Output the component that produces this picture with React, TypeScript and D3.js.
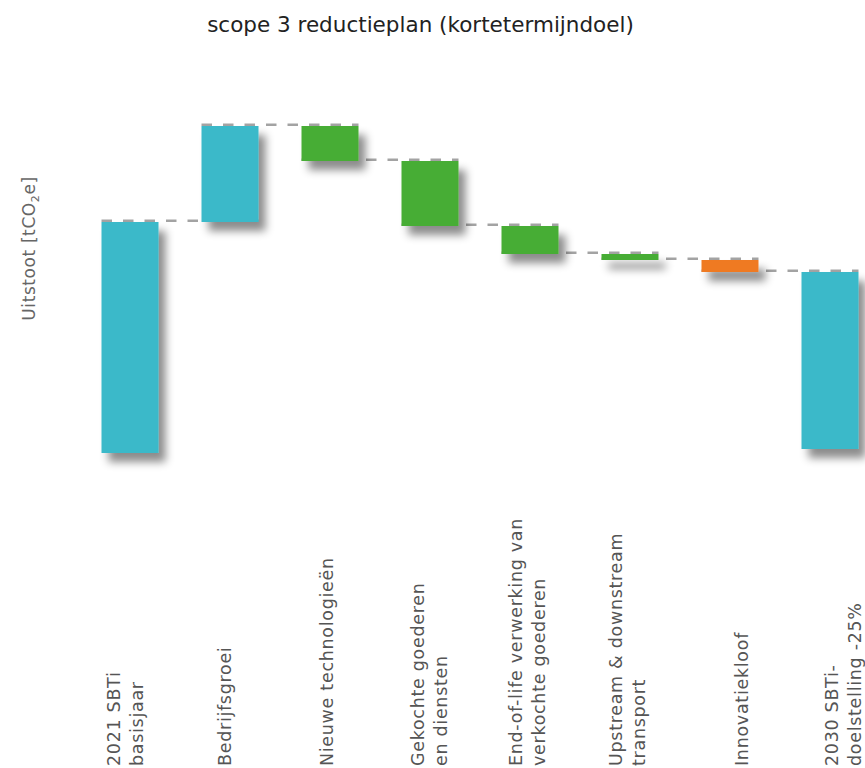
import React from "react";
import * as d3 from "d3";

const title = "scope 3 reductieplan (kortetermijndoel)";
const categories = [
  "2021 SBTi basisjaar",
  "Bedrijfsgroei",
  "Nieuwe technologieën",
  "Gekochte goederen en diensten",
  "End-of-life verwerking van verkochte goederen",
  "Upstream & downstream transport",
  "Innovatiekloof",
  "2030 SBTi-doelstelling -25%",
];
const labelLines = [
  ["2021 SBTi", "basisjaar"],
  ["Bedrijfsgroei"],
  ["Nieuwe technologieën"],
  ["Gekochte goederen", "en diensten"],
  ["End-of-life verwerking van", "verkochte goederen"],
  ["Upstream & downstream", "transport"],
  ["Innovatiekloof"],
  ["2030 SBTi-", "doelstelling -25%"],
];
// bar start / end values (tCO2e, relative units)
const startValues = [0, 231, 327, 292, 227, 199, 193, 4];
const endValues = [231, 327, 292, 227, 199, 193, 181, 181];
const kinds = ["total", "increase", "decrease", "decrease", "decrease", "decrease", "gap", "total"];

// layout-only tweaks for label placement
const labelNudge = [1, 0.5, 3, 5.5, 3, 3.5, 18, 19];

const colors: Record<string, string> = {
  total: "#3bb9c9",
  increase: "#3bb9c9",
  decrease: "#46ad35",
  gap: "#ef7a22",
};

const W = 865;
const H = 768;
const FONT = "'DejaVu Sans', sans-serif";

export default function App() {
  const x = d3
    .scaleBand<string>()
    .domain(categories)
    .range([80, 880])
    .paddingInner(0.43)
    .paddingOuter(0.215);
  const y = d3.scaleLinear().domain([0, 330]).range([453, 123]);
  const bw = x.bandwidth();

  const lineH = 23;

  return (
    <svg
      width={W}
      height={H}
      style={{ position: "absolute", left: 0, top: 0, background: "#fff" }}
    >
      <defs>
        <filter id="shadow" filterUnits="userSpaceOnUse" x={0} y={0} width={W} height={H}>
          <feDropShadow dx={7} dy={9} stdDeviation={4.5} floodColor="#000" floodOpacity={0.45} />
        </filter>
      </defs>
      <text
        x={420.5}
        y={32}
        textAnchor="middle"
        fontFamily={FONT}
        fontSize={21.5}
        fill="#222"
      >
        {title}
      </text>

      <text
        transform={`translate(35, 248.5) rotate(-90)`}
        textAnchor="middle"
        fontFamily={FONT}
        fontSize={17}
        letterSpacing={0.6}
        fill="#666"
      >
        Uitstoot [tCO
        <tspan fontSize={11} dy={4}>2</tspan>
        <tspan dy={-4}>e]</tspan>
      </text>

      {/* connectors */}
      {categories.slice(0, -1).map((c, i) => {
        const level = endValues[i];
        const x0 = x(c)!;
        const x1 = x(categories[i + 1])! + bw;
        const yy = y(level) - 1.2;
        return (
          <line
            key={"c" + i}
            x1={x0}
            x2={x1}
            y1={yy}
            y2={yy}
            stroke="#a3a3a3"
            strokeWidth={2.6}
            strokeDasharray="10.5 11"
          />
        );
      })}

      {/* bars */}
      {categories.map((c, i) => {
        const y0 = y(Math.max(startValues[i], endValues[i]));
        const y1 = y(Math.min(startValues[i], endValues[i]));
        return (
          <rect
            key={"b" + i}
            x={x(c)}
            y={y0}
            width={bw}
            height={y1 - y0}
            fill={colors[kinds[i]]}
            filter="url(#shadow)"
          />
        );
      })}

      {/* labels */}
      {categories.map((c, i) => {
        const lines = labelLines[i];
        const cx = x(c)! + bw / 2 + labelNudge[i];
        return (
          <g key={"l" + i} transform={`translate(0, 766)`}>
            {lines.map((ln, j) => {
              const bx = cx + (j - (lines.length - 1) / 2) * lineH;
              return (
                <text
                  key={j}
                  transform={`translate(${bx}, 0) rotate(-90)`}
                  textAnchor="start"
                  fontFamily={FONT}
                  fontSize={17.5}
                  letterSpacing={0.7}
                  fill="#555"
                >
                  {ln}
                </text>
              );
            })}
          </g>
        );
      })}
    </svg>
  );
}
